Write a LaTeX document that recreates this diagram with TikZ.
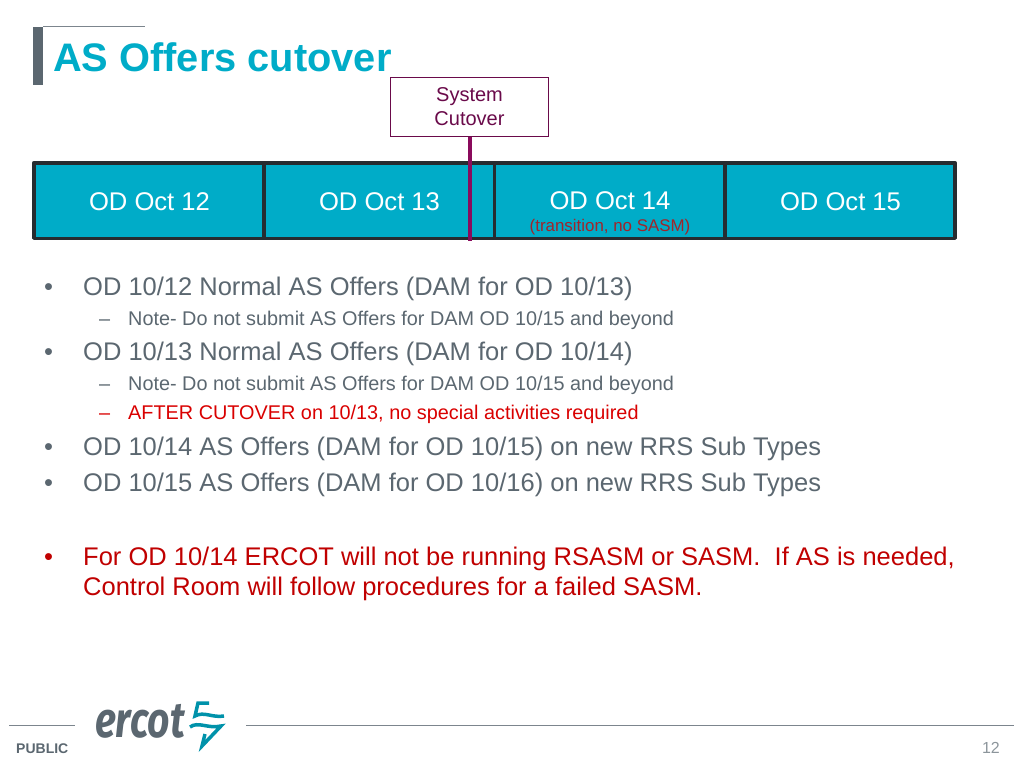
\documentclass[tikz,border=0pt]{standalone}
\usepackage{fontspec}
\setmainfont{Liberation Sans}
\newfontfamily\logofont{Fira Sans}
\usepackage{tikz}
\definecolor{ercotteal}{HTML}{00ACC8}
\definecolor{ercotgray}{HTML}{5B6770}
\definecolor{bardark}{HTML}{262C30}
\definecolor{cutmag}{HTML}{8A0A5C}
\definecolor{cuttext}{HTML}{6A0A4A}
\definecolor{alertred}{HTML}{C00000}
\definecolor{notered}{HTML}{A0252B}

\begin{document}
\begin{tikzpicture}[x=1pt,y=-1pt]
	\tikzstyle{daybox}=[rectangle,draw=bardark,line width=3.5pt,line join=round,fill=ercotteal,minimum width=230.3pt,minimum height=75.5pt,inner sep=0pt]
	\tikzstyle{daytext}=[text=white,font=\fontsize{25.6}{30}\selectfont,inner sep=0pt,anchor=base]
	\tikzstyle{bigtext}=[text=ercotgray,font=\fontsize{25.5}{30}\selectfont,inner sep=0pt,anchor=base west]
	\tikzstyle{smalltext}=[text=ercotgray,font=\fontsize{19.85}{24}\selectfont,inner sep=0pt,anchor=base west]
	\tikzstyle{footline}=[draw=ercotgray!80,line width=1pt]
	\tikzstyle{logomark}=[ercotteal!85!black,line width=3.5pt,line join=miter]
	\useasboundingbox (0,0) rectangle (1024,768);
	% title
	\fill[ercotgray] (33,27) rectangle (43,85);
	\draw[ercotgray!80,line width=1pt] (43,27) -- (145,27);
	\node[text=ercotteal,font=\bfseries\fontsize{39.8}{46}\selectfont,inner sep=0pt,anchor=base west](title) at (53,71.5) {AS Offers cutover};
	% timeline
	\node[daybox](oct12) at (149,200.5) {};
	\node[daybox](oct13) at (379.3,200.5) {};
	\node[daybox](oct14) at (609.6,200.5) {};
	\node[daybox](oct15) at (839.9,200.5) {};
	\node[daytext](oct12text) at (149.5,210) {OD Oct 12};
	\node[daytext](oct13text) at (379.5,210) {OD Oct 13};
	\node[daytext](oct14text) at (610,209) {OD Oct 14};
	\node[daytext](oct15text) at (840.5,210) {OD Oct 15};
	\node[text=notered,font=\fontsize{16.9}{20}\selectfont,inner sep=0pt,anchor=base](oct14note) at (610,231) {(transition, no SASM)};
	% cutover marker
	\node[draw=cuttext,fill=white,line width=0.8pt,text=cuttext,font=\fontsize{20}{24}\selectfont,align=center,minimum width=158pt,minimum height=59pt,inner sep=0pt](cutover) at (469.5,107) {System\\Cutover};
	\coordinate (cutend) at (469.5,241);
	\draw[cutmag,line width=4pt] (cutover.south) -- (cutend);
	% bullets
	\foreach \ypos in {295,360,455,491}
		\node[bigtext] at (44,\ypos) {•};
	\foreach \ypos in {325,390}
		\node[smalltext] at (99,\ypos) {–};
	\node[bigtext](line1) at (83,295) {OD 10/12 Normal AS Offers (DAM for OD 10/13)};
	\node[smalltext](line2) at (128,325) {Note- Do not submit AS Offers for DAM OD 10/15 and beyond};
	\node[bigtext](line3) at (83,360) {OD 10/13 Normal AS Offers (DAM for OD 10/14)};
	\node[smalltext](line4) at (128,390) {Note- Do not submit AS Offers for DAM OD 10/15 and beyond};
	\node[smalltext,text=red!85!black] at (99,419) {–};
	\node[smalltext,text=red!85!black](line5) at (128,419) {AFTER CUTOVER on 10/13, no special activities required};
	\node[bigtext](line6) at (83,455) {OD 10/14 AS Offers (DAM for OD 10/15) on new RRS Sub Types};
	\node[bigtext](line7) at (83,491) {OD 10/15 AS Offers (DAM for OD 10/16) on new RRS Sub Types};
	\node[bigtext,text=alertred] at (44,565) {•};
	\node[bigtext,text=alertred](line8) at (83,565) {For OD 10/14 ERCOT will not be running RSASM or SASM.\ \ If AS is needed,};
	\node[bigtext,text=alertred](line9) at (83,595) {Control Room will follow procedures for a failed SASM.};
	% footer
	\draw[footline] (9,725) -- (75,725);
	\draw[footline] (246,725) -- (1014,725);
	\node[text=ercotgray,font=\bfseries\fontsize{14}{16}\selectfont,inner sep=0pt,anchor=base west](public) at (16,753) {PUBLIC};
	\node[text=ercotgray!70,font=\fontsize{16}{18}\selectfont,inner sep=0pt,anchor=base east](pagenum) at (1000,753) {12};
	\node[text=ercotgray,font=\logofont\bfseries\itshape\fontsize{50}{56}\selectfont,inner sep=0pt,anchor=base west,xscale=0.78,transform shape](logo) at (95,737) {ercot};
	\draw[logomark] (209,703) -- (198,703) -- (195,716) .. controls (204,711) and (212,718) .. (224,716);
	\draw[logomark] (190,727) .. controls (198,721) and (208,729) .. (221,726) -- (202,746) -- (205,734);
\end{tikzpicture}
\end{document}
